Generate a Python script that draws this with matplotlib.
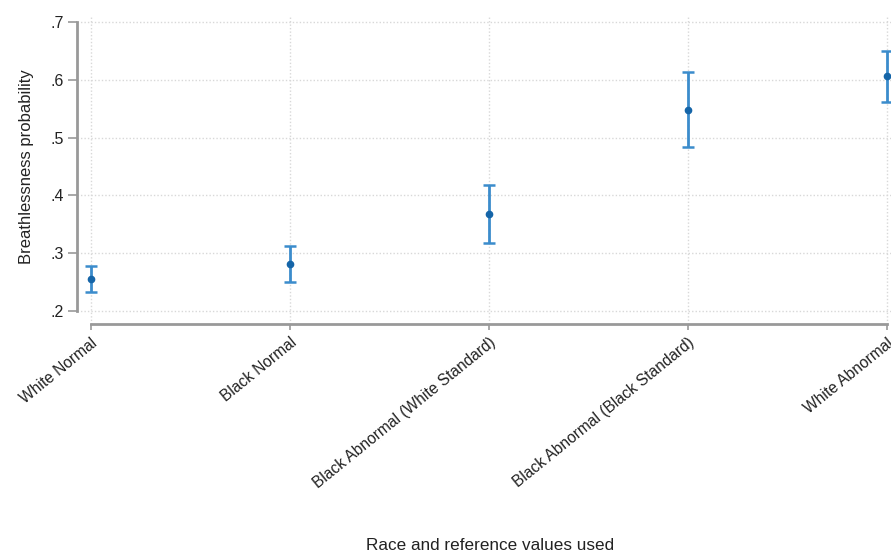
import matplotlib
matplotlib.use("Agg")
import matplotlib.pyplot as plt
from matplotlib.ticker import FuncFormatter

categories = ["White Normal", "Black Normal", "Black Abnormal (White Standard)",
              "Black Abnormal (Black Standard)", "White Abnormal"]
prob = [0.255, 0.281, 0.367, 0.548, 0.606]
ci_low = [0.233, 0.251, 0.318, 0.483, 0.562]
ci_high = [0.278, 0.313, 0.418, 0.613, 0.650]

plt.rcParams['font.family'] = ['Liberation Sans', 'DejaVu Sans']

W, H = 891, 556
fig = plt.figure(figsize=(W/100, H/100), dpi=100)
left, right, top, bottom = 77, 891, 15, 324
ax = fig.add_axes([left/W, 1 - bottom/H, (right-left)/W, (bottom-top)/H])

x = list(range(len(categories)))
yerr = [[p - l for p, l in zip(prob, ci_low)], [h - p for p, h in zip(prob, ci_high)]]
ax.errorbar(x, prob, yerr=yerr, fmt='o', color='#1565a8', ecolor='#3b8ccc',
            elinewidth=2.0, capsize=4.5, capthick=1.8, markersize=4.5, zorder=3)

ax.set_xlim(-14/199, 4 + 4/199)
ax.set_ylim(0.2 - 13/578, 0.7 + 7/578)
ax.set_yticks([0.2, 0.3, 0.4, 0.5, 0.6, 0.7])
ax.yaxis.set_major_formatter(FuncFormatter(lambda v, p: ('%.1f' % v).lstrip('0')))
ax.set_xticks(x)
ax.set_xticklabels(categories, rotation=39, ha='right', va='top',
                   rotation_mode='anchor', fontsize=11.2, color='#222222')
ax.tick_params(axis='y', labelsize=11.5, color='#999999', length=6.5, width=1.2, pad=3,
               labelcolor='#222222')
ax.tick_params(axis='x', color='#999999', length=4, width=1.2, pad=4)

ax.grid(True, color='#d8d8d8', linestyle=(0, (1, 1.5)), linewidth=1.0, zorder=0)

for s in ['top', 'right']:
    ax.spines[s].set_visible(False)
ax.spines['left'].set_bounds(0.2, 0.7)
ax.spines['bottom'].set_bounds(0, 4)
for s in ['left', 'bottom']:
    ax.spines[s].set_color('#999999')
    ax.spines[s].set_linewidth(2.0)

fig.text(27/W, 1 - 167/H, 'Breathlessness probability', rotation=90, ha='center', va='center',
         fontsize=12, color='#222222')
fig.text(490/W, 1 - 545/H, 'Race and reference values used', ha='center', va='center',
         fontsize=12.3, color='#222222')

fig.savefig('out.png', dpi=100)
